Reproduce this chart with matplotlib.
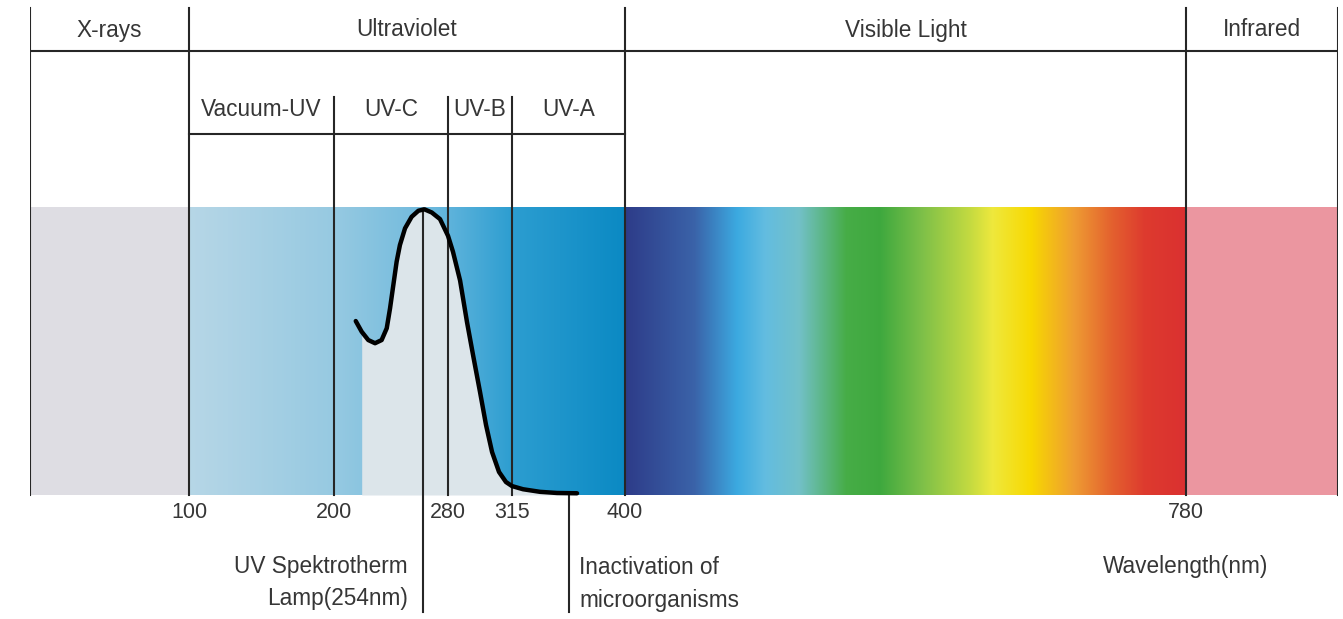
import numpy as np
import matplotlib
matplotlib.use("Agg")
import matplotlib.pyplot as plt
from matplotlib.colors import to_rgb

# ---- data ----
regions = ["X-rays", "Ultraviolet", "Visible Light", "Infrared"]
region_bounds = [(0, 100), (100, 400), (400, 780), (780, 1000)]
uv_bands = ["Vacuum-UV", "UV-C", "UV-B", "UV-A"]
uv_bounds = [(100, 200), (200, 280), (280, 315), (315, 400)]
tick_nm = [100, 200, 280, 315, 400, 780]
tick_labels = ["100", "200", "280", "315", "400", "780"]
lamp_nm = 254
inactivation_nm = 358

# germicidal action curve (relative)
curve_nm = [213.2, 216.8, 220.8, 224.9, 228.9, 232.0, 234.0, 236.0, 238.0, 240.0,
            243.1, 247.1, 251.2, 255.4, 263.1, 271.7, 280.0, 282.7, 286.6, 290.4,
            293.7, 297.5, 300.8, 304.1, 307.9, 311.7, 315.0, 323.3, 336.1,
            348.9, 363.9]
curve_val = [0.604, 0.567, 0.538, 0.527, 0.538, 0.579, 0.648, 0.729, 0.81, 0.868,
             0.926, 0.966, 0.987, 0.992, 0.981, 0.958, 0.90, 0.845, 0.745, 0.60,
             0.486, 0.358, 0.243, 0.149, 0.08, 0.045, 0.031, 0.02, 0.011,
             0.007, 0.006]

# colours of the spectrum bar
xray_color = "#DEDDE3"
ir_color = "#EB96A0"
uv_stops = [(100, "#B6D6E6"), (200, "#96C9E1"), (280, "#5FB3DB"), (315, "#2C9DD0"), (400, "#0A89C3")]
vis_stops = [(400, "#2D3B88"), (447, "#3A62A8"), (476, "#3BA9E0"), (495, "#62BCE0"), (518, "#72C0C8"),
             (550, "#46AC46"), (573, "#3EA83E"), (601, "#7CBF48"), (634, "#C4DA40"), (649, "#EEE83C"),
             (675, "#F7D800"), (704, "#EE9C32"), (730, "#E3602E"), (752, "#DD3A2E"), (780, "#DA3030")]

# ---- schematic (non linear) wavelength axis ----
anchor_nm = np.array([0, 100, 200, 254, 280, 315, 400, 780, 1000], dtype=float)
anchor_px = np.array([30, 189, 334, 423, 448, 512, 625, 1186, 1338], dtype=float)


def fwd(x):
    return np.interp(x, anchor_nm, anchor_px)


def inv(p):
    return np.interp(p, anchor_px, anchor_nm)


def ypx(p):
    # layout helper: figure pixel row -> axis units (bar bottom 0, top 1)
    return (495 - p) / 288.0


def mid(a, b):
    return inv((fwd(a) + fwd(b)) / 2)


def gradient(x, stops):
    xs = [s[0] for s in stops]
    cs = np.array([to_rgb(s[1]) for s in stops])
    return np.stack([np.interp(x, xs, cs[:, i]) for i in range(3)], axis=-1)


plt.rcParams["font.family"] = ["Liberation Sans", "DejaVu Sans"]
txt = "#363636"
lc = "#262626"
fs = 16.3

fig = plt.figure(figsize=(13.43, 6.19), dpi=100)
ax = fig.add_axes([30 / 1343, 0, 1308 / 1343, 1])
ax.set_xscale("function", functions=(fwd, inv))
ax.set_xlim(0, 1000)
ax.set_ylim(ypx(619), ypx(0))
ax.axis("off")

# spectrum bar
edges = inv(np.arange(30, 1339, 1.0))
centers = (edges[:-1] + edges[1:]) / 2
rgb = np.zeros((len(centers), 3))
rgb[centers < 100] = to_rgb(xray_color)
m = (centers >= 100) & (centers < 400)
rgb[m] = gradient(centers[m], uv_stops)
m = (centers >= 400) & (centers < 780)
rgb[m] = gradient(centers[m], vis_stops)
rgb[centers >= 780] = to_rgb(ir_color)
ax.pcolormesh(edges, [0, 1], rgb[None, :, :], shading="flat", edgecolors="none",
              antialiased=False, rasterized=True, zorder=1)

# area under the curve
cn = np.array(curve_nm)
cv = np.array(curve_val)
ax.fill_between(cn[1:], cv[1:], 0, color="#DCE5EA", lw=0, zorder=2)

# header grid
ax.plot([0, 1000], [ypx(51)] * 2, color=lc, lw=1.5, zorder=4)
ax.plot([100, 400], [ypx(134)] * 2, color=lc, lw=1.5, zorder=4)
for x in [0, 100, 400, 780, 1000]:
    ax.plot([x, x], [ypx(8), 0], color=lc, lw=1.5, zorder=4)
for x in [200, 280, 315]:
    ax.plot([x, x], [ypx(97), 0], color=lc, lw=1.5, zorder=4)

for name, (a, b) in zip(regions, region_bounds):
    ax.text(mid(a, b), ypx(30), name, ha="center", va="center", fontsize=fs, color=txt)
for name, (a, b) in zip(uv_bands, uv_bounds):
    ax.text(mid(a, b), ypx(110), name, ha="center", va="center", fontsize=fs, color=txt)

for x, lab in zip(tick_nm, tick_labels):
    ax.text(x, ypx(512), lab, ha="center", va="center", fontsize=15.5, color=txt)

# curve and markers
ax.plot(cn, cv, color="black", lw=3.2, solid_capstyle="round", solid_joinstyle="round", zorder=6)
ax.plot([lamp_nm, lamp_nm], [max(curve_val), ypx(612)], color=lc, lw=1.5, zorder=5)
ax.plot([inactivation_nm, inactivation_nm], [0.006, ypx(612)], color=lc, lw=1.5, zorder=5)

ax.annotate("UV Spektrotherm", xy=(lamp_nm, ypx(567)), xytext=(-15, 0), textcoords="offset pixels",
            ha="right", va="center", fontsize=fs, color=txt)
ax.annotate("Lamp(254nm)", xy=(lamp_nm, ypx(599)), xytext=(-15, 0), textcoords="offset pixels",
            ha="right", va="center", fontsize=fs, color=txt)
ax.annotate("Inactivation of", xy=(inactivation_nm, ypx(567)), xytext=(10, 0), textcoords="offset pixels",
            ha="left", va="center", fontsize=fs, color=txt)
ax.annotate("microorganisms", xy=(inactivation_nm, ypx(601)), xytext=(10, 0), textcoords="offset pixels",
            ha="left", va="center", fontsize=fs, color=txt)
ax.text(780, ypx(566), "Wavelength(nm)", ha="center", va="center", fontsize=fs, color=txt)

fig.savefig("out.png", dpi=100, facecolor="white")
